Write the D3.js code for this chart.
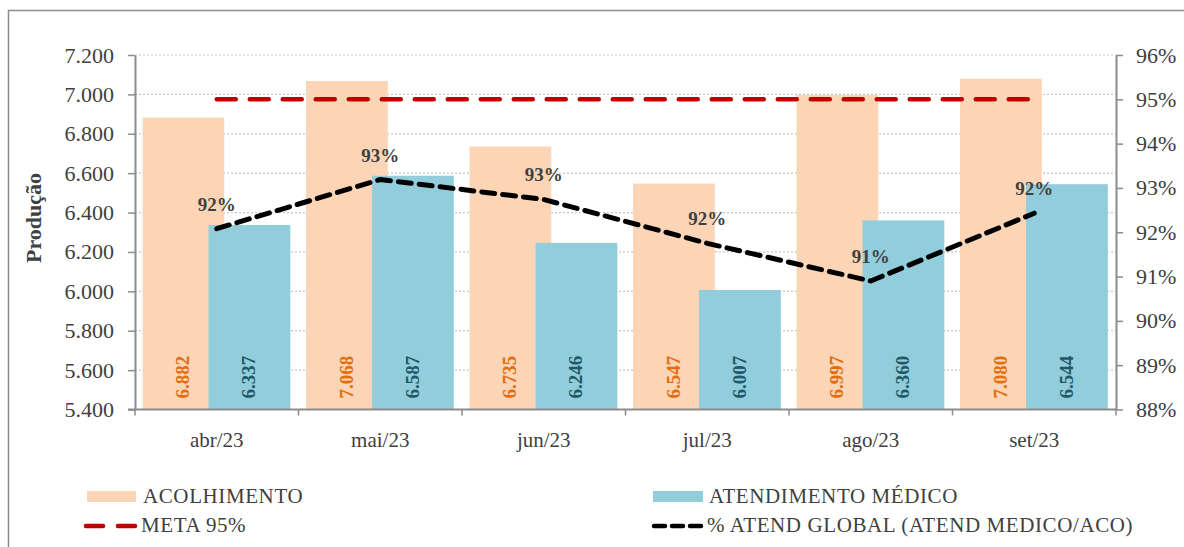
<!DOCTYPE html>
<html>
<head>
<meta charset="utf-8">
<script src="https://cdn.jsdelivr.net/npm/d3@7"></script>
<style>
  html, body { margin: 0; padding: 0; background: #fff; }
  svg { display: block; }
  svg text { font-family: 'Liberation Serif', 'Times New Roman', serif !important; }
</style>
</head>
<body>
<svg id="chart" width="1184" height="547"></svg>
<script>
'use strict';

// data
var months = ['abr/23', 'mai/23', 'jun/23', 'jul/23', 'ago/23', 'set/23'];
var acolhimento = [6882, 7068, 6735, 6547, 6997, 7080];
var atendimento = [6337, 6587, 6246, 6007, 6360, 6544];
var atendGlobal = [92.08, 93.19, 92.74, 91.75, 90.90, 92.43]; // % atend medico / aco
var meta = [95, 95, 95, 95, 95, 95];
var leftTicks = [5400, 5600, 5800, 6000, 6200, 6400, 6600, 6800, 7000, 7200];
var rightTicks = [88, 89, 90, 91, 92, 93, 94, 95, 96];

var svg = d3.select('#chart');

// plot box
var plotLeft = 135, plotRight = 1116, plotTop = 55, plotBottom = 409.5;

var ptBR = d3.formatLocale({decimal: ',', thousands: '.', grouping: [3], currency: ['R$', '']});
var fmtNum = ptBR.format(',d');
var fmtPct = function(v) { return Math.round(v) + '%'; };

var x = d3.scaleBand().domain(months).range([plotLeft, plotRight]).padding(0);
var y = d3.scaleLinear().domain([5400, 7200]).range([plotBottom, plotTop]);
var y2 = d3.scaleLinear().domain([88, 96]).range([plotBottom, plotTop]);

var bw = x.bandwidth();

// outer frame
svg.append('rect')
  .attr('x', 8.5).attr('y', 10.5)
  .attr('width', 1190).attr('height', 560)
  .attr('fill', 'none')
  .attr('stroke', '#8c8c8c')
  .attr('stroke-width', 1.5);

// gridlines (behind the bars)
svg.append('g')
  .selectAll('line')
  .data(leftTicks.slice(1))
  .enter()
    .append('line')
    .attr('x1', plotLeft).attr('x2', plotRight)
    .attr('y1', function(d) { return y(d); })
    .attr('y2', function(d) { return y(d); })
    .attr('stroke', '#c8c8c8')
    .attr('stroke-width', 1.2)
    .attr('stroke-dasharray', '2,2');

// bars: acolhimento first, atendimento overlaps it
svg.append('g')
  .selectAll('rect')
  .data(acolhimento)
  .enter()
    .append('rect')
    .attr('x', function(d, i) { return x(months[i]) + bw * 0.046; })
    .attr('y', function(d) { return y(d); })
    .attr('width', bw * 0.5)
    .attr('height', function(d) { return plotBottom - y(d); })
    .attr('fill', '#FBD5B5');

svg.append('g')
  .selectAll('rect')
  .data(atendimento)
  .enter()
    .append('rect')
    .attr('x', function(d, i) { return x(months[i]) + bw * 0.45; })
    .attr('y', function(d) { return y(d); })
    .attr('width', bw * 0.5)
    .attr('height', function(d) { return plotBottom - y(d); })
    .attr('fill', '#92CDDC');

// vertical value labels at the bottom of the bars
function barLabels(data, offset, color) {
  svg.append('g')
    .selectAll('text')
    .data(data)
    .enter()
      .append('text')
      .attr('transform', function(d, i) {
        var cx = x(months[i]) + offset + bw * 0.25;
        return 'translate(' + (cx + 6) + ',' + (plotBottom - 11) + ') rotate(-90)';
      })
      .attr('fill', color)
      .attr('font-size', 19)
      .attr('font-weight', 'bold')
      .text(function(d) { return fmtNum(d); });
}
barLabels(acolhimento, bw * 0.046, '#E46C0A');
barLabels(atendimento, bw * 0.45, '#215968');

// meta 95% line
var line2 = d3.line()
  .x(function(d, i) { return x(months[i]) + bw / 2; })
  .y(function(d) { return y2(d); });

svg.append('path')
  .datum(meta)
  .attr('d', line2)
  .attr('fill', 'none')
  .attr('stroke', '#C00000')
  .attr('stroke-width', 4.5)
  .attr('stroke-dasharray', '19,14')
  .attr('stroke-linecap', 'round');

// % atend global line
svg.append('path')
  .datum(atendGlobal)
  .attr('d', line2)
  .attr('fill', 'none')
  .attr('stroke', '#000')
  .attr('stroke-width', 5)
  .attr('stroke-dasharray', '13,8')
  .attr('stroke-linecap', 'round')
  .attr('stroke-linejoin', 'round');

svg.append('g')
  .selectAll('text')
  .data(atendGlobal)
  .enter()
    .append('text')
    .attr('x', function(d, i) { return x(months[i]) + bw / 2; })
    .attr('y', function(d) { return y2(d) - 18; })
    .attr('text-anchor', 'middle')
    .attr('fill', '#404040')
    .attr('font-size', 19)
    .attr('font-weight', 'bold')
    .text(function(d) { return fmtPct(d); });

// axes
var axisColor = '#8c8c8c', textColor = '#404040';

var gLeft = svg.append('g')
  .attr('transform', 'translate(' + plotLeft + ',0)')
  .call(d3.axisLeft(y).tickValues(leftTicks).tickFormat(fmtNum).tickSize(7).tickSizeOuter(0).tickPadding(14));

var gRight = svg.append('g')
  .attr('transform', 'translate(' + plotRight + ',0)')
  .call(d3.axisRight(y2).tickValues(rightTicks).tickFormat(function(d) { return d + '%'; }).tickSize(7).tickSizeOuter(0).tickPadding(13));

var bounds = months.map(function(m) { return x(m); }).concat([plotRight]);
var gBottom = svg.append('g')
  .attr('transform', 'translate(0,' + plotBottom + ')');
gBottom.append('line')
  .attr('x1', plotLeft - 7).attr('x2', plotRight)
  .attr('stroke', axisColor).attr('stroke-width', 2);
gBottom.selectAll('line.tick')
  .data(bounds)
  .enter()
    .append('line')
    .attr('class', 'tick')
    .attr('x1', function(d) { return d; })
    .attr('x2', function(d) { return d; })
    .attr('y2', 6)
    .attr('stroke', axisColor).attr('stroke-width', 1.5);
gBottom.selectAll('text')
  .data(months)
  .enter()
    .append('text')
    .attr('x', function(d) { return x(d) + bw / 2; })
    .attr('y', 37)
    .attr('text-anchor', 'middle')
    .attr('fill', textColor)
    .attr('font-size', 21)
    .text(function(d) { return d; });

[gLeft, gRight].forEach(function(g) {
  g.select('.domain').attr('stroke', axisColor).attr('stroke-width', 2);
  g.selectAll('.tick line').attr('stroke', axisColor).attr('stroke-width', 1.5);
  g.selectAll('.tick text')
    .attr('fill', textColor)
    .attr('font-size', 22);
});

// y axis title
svg.append('text')
  .attr('transform', 'translate(41,218) rotate(-90)')
  .attr('text-anchor', 'middle')
  .attr('fill', textColor)
  .attr('font-size', 22)
  .attr('font-weight', 'bold')
  .text('Produção');

// legend
var legend = svg.append('g').attr('fill', textColor).attr('font-size', 21).attr('letter-spacing', 0.6);

legend.append('rect').attr('x', 87).attr('y', 491).attr('width', 49).attr('height', 11).attr('fill', '#FBD5B5');
legend.append('text').attr('x', 143).attr('y', 503).text('ACOLHIMENTO');

legend.append('rect').attr('x', 653).attr('y', 491).attr('width', 50).attr('height', 11).attr('fill', '#92CDDC');
legend.append('text').attr('x', 709).attr('y', 503).text('ATENDIMENTO MÉDICO');

legend.append('line')
  .attr('x1', 86).attr('x2', 136).attr('y1', 526).attr('y2', 526)
  .attr('stroke', '#C00000').attr('stroke-width', 4.5)
  .attr('stroke-dasharray', '17,15').attr('stroke-linecap', 'round');
legend.append('text').attr('x', 141).attr('y', 532).text('META 95%');

legend.append('line')
  .attr('x1', 654).attr('x2', 702).attr('y1', 526).attr('y2', 526)
  .attr('stroke', '#000').attr('stroke-width', 4.5)
  .attr('stroke-dasharray', '11,7').attr('stroke-linecap', 'round');
legend.append('text').attr('x', 707).attr('y', 532).text('% ATEND GLOBAL (ATEND MEDICO/ACO)');
</script>
</body>
</html>
